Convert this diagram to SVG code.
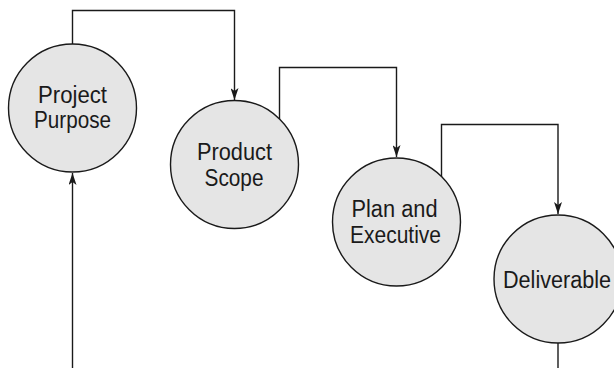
<svg xmlns="http://www.w3.org/2000/svg" width="614" height="368" viewBox="0 0 614 368">
  <defs>
    <style>
      .node circle { fill: #e5e5e5; stroke: #1a1a1a; stroke-width: 1.4; }
      .node text { font-family: "Liberation Sans", Arial, sans-serif; font-size: 23.5px; fill: #1a1a1a; text-anchor: middle; }
      .conn path { fill: none; stroke: #1a1a1a; stroke-width: 1.4; }
    </style>
    <marker id="arrow" viewBox="0 0 12 8" refX="12" refY="4" markerWidth="12" markerHeight="8" markerUnits="userSpaceOnUse" orient="auto">
      <path d="M0,0 L12,4 L0,8 L3,4 Z" fill="#1a1a1a"/>
    </marker>
  </defs>
  <rect width="614" height="368" fill="#ffffff"/>
  <g id="connectors" class="conn">
    <path d="M72.5,44 V10.5 H234.5 V100" marker-end="url(#arrow)"/>
    <path d="M279.5,119 V67.5 H396.5 V157" marker-end="url(#arrow)"/>
    <path d="M441.5,177 V124.5 H558 V214" marker-end="url(#arrow)"/>
    <path d="M558,343 V368"/>
    <path d="M72.5,368 V173" marker-end="url(#arrow)"/>
  </g>
  <g id="node-project-purpose" class="node">
    <circle cx="72.5" cy="108" r="64"/>
    <text x="72.5" y="103" textLength="69" lengthAdjust="spacingAndGlyphs">Project</text>
    <text x="72.5" y="128" textLength="77" lengthAdjust="spacingAndGlyphs">Purpose</text>
  </g>
  <g id="node-product-scope" class="node">
    <circle cx="234.5" cy="164.5" r="64"/>
    <text x="234.5" y="160" textLength="75" lengthAdjust="spacingAndGlyphs">Product</text>
    <text x="234" y="185.5" textLength="59" lengthAdjust="spacingAndGlyphs">Scope</text>
  </g>
  <g id="node-plan-executive" class="node">
    <circle cx="396.5" cy="222" r="64"/>
    <text x="394.5" y="217" textLength="86" lengthAdjust="spacingAndGlyphs">Plan and</text>
    <text x="395.5" y="243" textLength="91" lengthAdjust="spacingAndGlyphs">Executive</text>
  </g>
  <g id="node-deliverable" class="node">
    <circle cx="558" cy="279" r="64"/>
    <text x="557" y="288" textLength="108" lengthAdjust="spacingAndGlyphs">Deliverable</text>
  </g>
</svg>
